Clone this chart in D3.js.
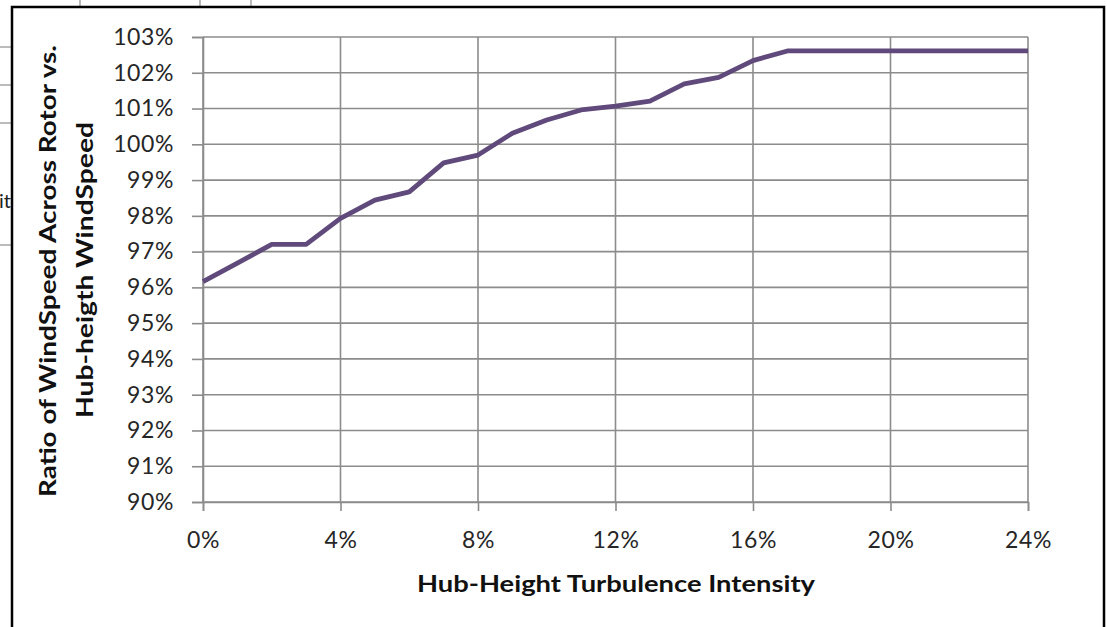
<!DOCTYPE html>
<html>
<head>
<meta charset="utf-8">
<script src="https://cdn.jsdelivr.net/npm/d3@7"></script>
<style>
  html, body { margin: 0; padding: 0; background: #fff; }
  svg { display: block; }
  text { font-family: Lato, "Open Sans", sans-serif; }
</style>
</head>
<body>
<svg id="chart" width="1107" height="627"></svg>
<script>
// ---- data ----
const turbulence = [0,1,2,3,4,5,6,7,8,9,10,11,12,13,14,15,16,17,18,19,20,21,22,23,24];
const ratio = [96.16,96.68,97.2,97.2,97.93,98.44,98.67,99.48,99.70,100.31,100.68,100.96,101.07,101.21,101.69,101.87,102.34,102.61,102.61,102.61,102.61,102.61,102.61,102.61,102.61];
const yTicks = [90,91,92,93,94,95,96,97,98,99,100,101,102,103];
const xTicks = [0,4,8,12,16,20,24];
const xTitle = "Hub-Height Turbulence Intensity";
const yTitle1 = "Ratio of WindSpeed Across Rotor vs.";
const yTitle2 = "Hub-heigth WindSpeed";

const svg = d3.select("#chart");

// spreadsheet background artifacts
const cellGray = "#a6a6a6";
[80, 200, 251].forEach(xv => svg.append("line").attr("x1", xv).attr("x2", xv).attr("y1", 0).attr("y2", 7)
  .attr("stroke", cellGray).attr("stroke-width", 1.5));
[47, 85, 123, 245].forEach(yv => svg.append("line").attr("x1", 0).attr("x2", 12).attr("y1", yv).attr("y2", yv)
  .attr("stroke", cellGray).attr("stroke-width", 1.5));
svg.append("text").attr("x", 11).attr("y", 208).attr("text-anchor", "end")
  .attr("font-size", 20).attr("fill", "#222").text("it");

// chart frame
svg.append("rect").attr("x", 12).attr("y", 7).attr("width", 1092).attr("height", 640)
  .attr("fill", "#fff").attr("stroke", "#000").attr("stroke-width", 2.5);

// scales
const x = d3.scaleLinear().domain([0, 24]).range([203, 1028]);
const y = d3.scaleLinear().domain([90, 103]).range([502, 37]);

const gridColor = "#8c8c8c";

// gridlines
svg.append("g").selectAll("line.h").data(yTicks).join("line")
  .attr("x1", x(0)).attr("x2", x(24)).attr("y1", d => y(d)).attr("y2", d => y(d))
  .attr("stroke", gridColor).attr("stroke-width", 1.6);
svg.append("g").selectAll("line.v").data(xTicks).join("line")
  .attr("x1", d => x(d)).attr("x2", d => x(d)).attr("y1", y(103)).attr("y2", y(90))
  .attr("stroke", gridColor).attr("stroke-width", 1.6);

// axes
const yAxis = svg.append("g").attr("transform", `translate(${x(0)},0)`)
  .call(d3.axisLeft(y).tickValues(yTicks).tickSize(11).tickPadding(18).tickFormat(d => d + "%"));
const xAxis = svg.append("g").attr("transform", `translate(0,${y(90)})`)
  .call(d3.axisBottom(x).tickValues(xTicks).tickSize(9).tickPadding(21).tickFormat(d => d + "%"));
[yAxis, xAxis].forEach(g => {
  g.select(".domain").attr("stroke", gridColor).attr("stroke-width", 1.6);
  g.selectAll(".tick line").attr("stroke", gridColor).attr("stroke-width", 1.6);
  g.selectAll(".tick text").attr("font-size", 23).attr("fill", "#262626")
    .attr("font-family", "Lato, sans-serif").style("letter-spacing", "0.6px");
});

// line
const line = d3.line().x((d, i) => x(turbulence[i])).y(d => y(d));
svg.append("path").datum(ratio).attr("d", line)
  .attr("fill", "none").attr("stroke", "#604A7B").attr("stroke-width", 4.8)
  .attr("stroke-linejoin", "round").attr("stroke-linecap", "butt");

// titles
svg.append("text").attr("x", 616).attr("y", 592).attr("text-anchor", "middle")
  .attr("font-size", 23).attr("font-weight", "bold").attr("fill", "#111")
  .attr("textLength", 398).attr("lengthAdjust", "spacingAndGlyphs").text(xTitle);

svg.append("text").attr("transform", "translate(56,271) rotate(-90)").attr("text-anchor", "middle")
  .attr("font-size", 23).attr("font-weight", "bold").attr("fill", "#111")
  .attr("textLength", 452).attr("lengthAdjust", "spacingAndGlyphs").text(yTitle1);
svg.append("text").attr("transform", "translate(93,270) rotate(-90)").attr("text-anchor", "middle")
  .attr("font-size", 23).attr("font-weight", "bold").attr("fill", "#111")
  .attr("textLength", 296).attr("lengthAdjust", "spacingAndGlyphs").text(yTitle2);
</script>
</body>
</html>
